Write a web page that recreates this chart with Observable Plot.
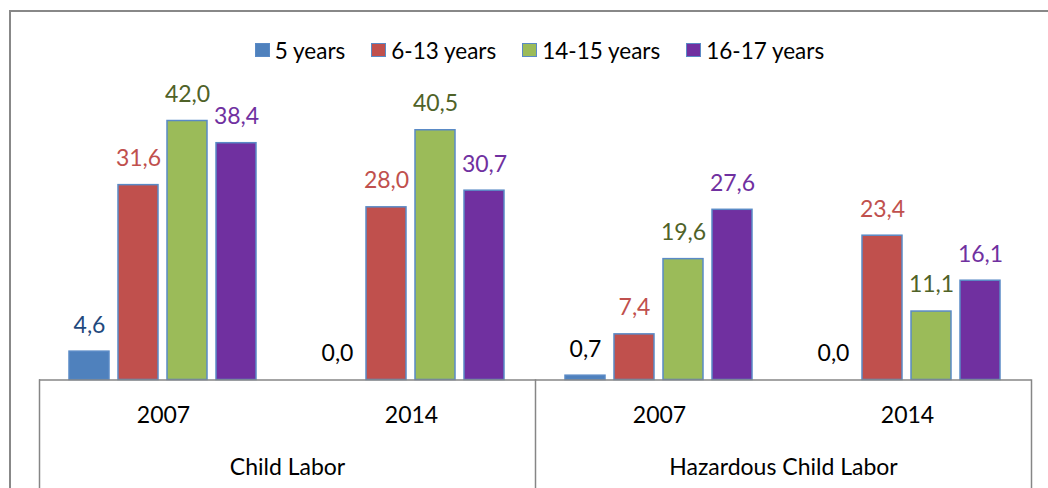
<!DOCTYPE html>
<html><head><meta charset="utf-8">
<script src="https://cdn.jsdelivr.net/npm/d3@7"></script>
<script src="https://cdn.jsdelivr.net/npm/@observablehq/plot@0.6"></script>
<style>
html,body{margin:0;padding:0;background:#fff;overflow:hidden;}
#chart{position:absolute;left:9px;top:10px;width:1057px;height:490px;border-left:2px solid #888;border-top:2px solid #888;font-family:Lato,sans-serif;}
#legend{display:flex;justify-content:center;align-items:center;height:28px;margin-top:24px;font-size:22.5px;color:#000;}
.item{display:flex;align-items:center;margin:0 13px;}
.sw{width:15px;height:14px;box-sizing:border-box;border:1.5px solid #5A8AC6;margin-right:5px;}
svg{display:block;}
</style></head><body>
<div id="chart"><div id="legend"></div></div>
<script>
const groups = ["Child Labor", "Hazardous Child Labor"];
const years = ["2007", "2014"];
const seriesNames = ["5 years", "6-13 years", "14-15 years", "16-17 years"];
// values per category: Child Labor 2007, Child Labor 2014, Hazardous 2007, Hazardous 2014
const values5 = [4.6, 0.0, 0.7, 0.0];
const values613 = [31.6, 28.0, 7.4, 23.4];
const values1415 = [42.0, 40.5, 19.6, 11.1];
const values1617 = [38.4, 30.7, 27.6, 16.1];
const seriesValues = [values5, values613, values1415, values1617];
const fills = ["#4F81BD", "#C0504D", "#9BBB59", "#7030A0"];
const labelColors = ["#1F497D", "#C0504D", "#4F6228", "#7030A0"];

const cats = groups.flatMap(g => years.map(y => g + "|" + y));
const rows = [];
cats.forEach((c, ci) => seriesNames.forEach((s, si) => rows.push({cat: c, series: s, value: seriesValues[si][ci], si})));

const legend = document.getElementById("legend");
seriesNames.forEach((s, i) => {
  const it = document.createElement("div"); it.className = "item";
  const sw = document.createElement("div"); sw.className = "sw"; sw.style.background = fills[i];
  const tx = document.createElement("span"); tx.textContent = s;
  it.appendChild(sw); it.appendChild(tx); legend.appendChild(it);
});

const fmt = v => v.toFixed(1).replace(".", ",");
const axisGray = "#868686";
const H = 428, MT = 38, MB = 112.5;
const frameH = H - MT - MB;
const FS = 23;

const chart = Plot.plot({
  width: 1057, height: H, marginTop: MT, marginBottom: MB, marginLeft: 27, marginRight: 36,
  style: {fontFamily: "Lato, sans-serif", fontSize: FS + "px", overflow: "visible", color: "#000"},
  fx: {domain: cats, padding: 0, axis: null},
  x: {domain: seriesNames, paddingInner: 0.18, paddingOuter: 0.575, axis: null},
  y: {domain: [0, 45], axis: null},
  color: {type: "identity"},
  marks: [
    Plot.barY(rows, {fx: "cat", x: "series", y: "value", fill: d => fills[d.si], stroke: "#5A8AC6", strokeWidth: 1.5}),
    Plot.ruleY([0], {stroke: axisGray, strokeWidth: 1.5}),
    Plot.frame({fx: cats[0], anchor: "left", stroke: axisGray, strokeWidth: 1.5, insetTop: frameH, insetBottom: -140}),
    Plot.frame({fx: cats[2], anchor: "left", stroke: axisGray, strokeWidth: 1.5, insetTop: frameH, insetBottom: -140}),
    Plot.frame({fx: cats[3], anchor: "right", stroke: axisGray, strokeWidth: 1.5, insetTop: frameH, insetBottom: -140}),
    Plot.text(rows, {fx: "cat", x: "series", y: "value", text: d => fmt(d.value), dy: -26.5, lineAnchor: "middle",
      fill: d => d.value < 1 ? "#000000" : labelColors[d.si], fontSize: FS}),
    Plot.text(cats, {fx: d => d, text: d => d.split("|")[1], frameAnchor: "bottom", dy: 36, lineAnchor: "middle", fill: "#000000", fontSize: FS}),
    Plot.text(groups, {fx: d => d + "|" + years[0], text: d => d, frameAnchor: "bottom-right", textAnchor: "middle", dy: 87.5, lineAnchor: "middle", fill: "#000000", fontSize: FS})
  ]
});
document.getElementById("chart").appendChild(chart);
</script></body></html>
